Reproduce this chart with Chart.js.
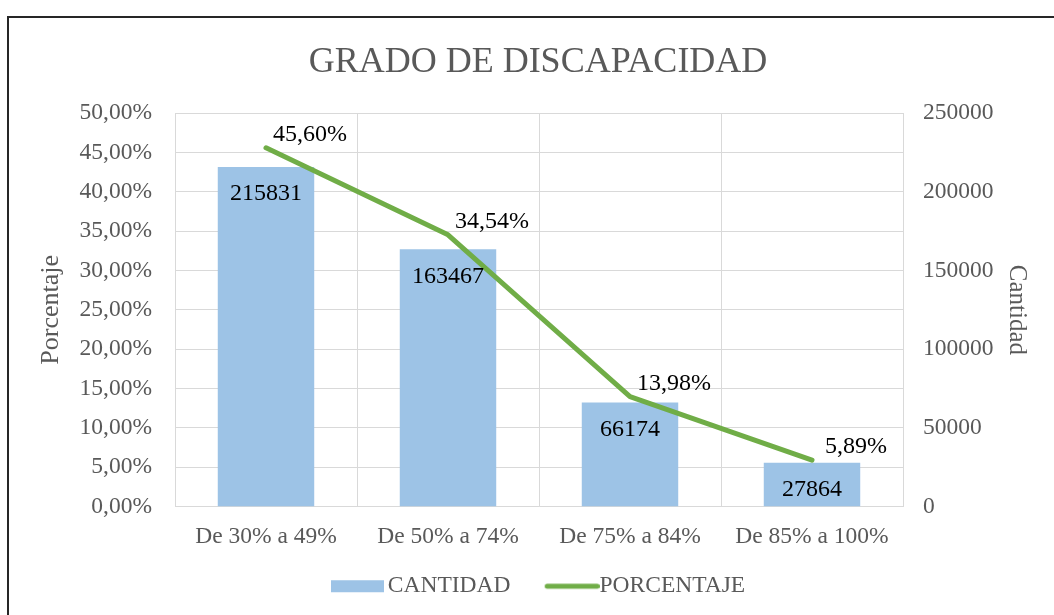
<!DOCTYPE html>
<html lang="es">
<head>
<meta charset="utf-8">
<title>Grado de discapacidad</title>
<script src="https://cdn.jsdelivr.net/npm/chart.js@4.4.1/dist/chart.umd.min.js"></script>
<style>
  html,body{margin:0;padding:0;background:#fff;overflow:hidden}
  #marco{position:relative;width:1054px;height:615px}
  #borde{position:absolute;left:7px;top:16px;width:1100px;height:700px;border:2px solid #262626;pointer-events:none}
</style>
</head>
<body>
<div id="marco">
  <canvas id="chartGrado" width="1054" height="615"></canvas>
  <div id="borde"></div>
</div>
<script>
// ============================================================
// GRADO DE DISCAPACIDAD — cantidad (barras) y porcentaje (línea)
// ============================================================

const categorias = ['De 30% a 49%', 'De 50% a 74%', 'De 75% a 84%', 'De 85% a 100%'];
const cantidad   = [215831, 163467, 66174, 27864];
const porcentaje = [45.60, 34.54, 13.98, 5.89];

const AZUL = '#9DC3E6', VERDE = '#70AD47', GRIS = '#595959', REJILLA = '#D9D9D9';
const FUENTE = '"Liberation Serif", "Times New Roman", serif';

const fmtPct = v => v.toFixed(2).replace('.', ',') + '%';

// muestras de la leyenda (rectángulo azul / trazo verde)
function muestraLeyenda(tipo) {
  const c = document.createElement('canvas');
  c.width = 91; c.height = 14;
  const g = c.getContext('2d');
  if (tipo === 'barra') { g.fillStyle = AZUL; g.fillRect(34, 1, 53, 12); }
  else { g.strokeStyle = VERDE; g.lineWidth = 5; g.lineCap = 'round'; g.beginPath(); g.moveTo(38.5, 7); g.lineTo(88.5, 7); g.stroke(); }
  return c;
}
const muestras = [muestraLeyenda('barra'), muestraLeyenda('linea')];

// etiquetas de datos + pequeño ajuste de la leyenda
const etiquetas = {
  id: 'etiquetas',
  afterLayout(chart) {
    chart.legend.left -= 11;
    chart.legend.right -= 11;
  },
  afterDatasetsDraw(chart) {
    const ctx = chart.ctx;
    ctx.save();
    ctx.font = '24px ' + FUENTE;
    ctx.fillStyle = '#000';
    ctx.textAlign = 'center';
    ctx.textBaseline = 'middle';
    chart.getDatasetMeta(0).data.forEach((b, i) => ctx.fillText(String(cantidad[i]), b.x, b.y + 27));
    chart.getDatasetMeta(1).data.forEach((p, i) => ctx.fillText(fmtPct(porcentaje[i]), p.x + 44, p.y - 13));
    ctx.restore();
  }
};

Chart.defaults.font.family = FUENTE;
Chart.defaults.color = GRIS;

const ctx = document.getElementById('chartGrado').getContext('2d');
const chartGrado = new Chart(ctx, {
  type: 'bar',
  data: {
    labels: categorias,
    datasets: [
      { type: 'bar', label: 'CANTIDAD', data: cantidad, backgroundColor: AZUL, yAxisID: 'y1',
        categoryPercentage: 0.53, barPercentage: 1, order: 1 },
      { type: 'line', label: 'PORCENTAJE', data: porcentaje, borderColor: VERDE, backgroundColor: VERDE, yAxisID: 'y',
        borderWidth: 5, tension: 0, pointRadius: 0, pointHoverRadius: 0, borderCapStyle: 'round', borderJoinStyle: 'round', order: 0 }
    ]
  },
  options: {
    responsive: false,
    animation: false,
    devicePixelRatio: 1,
    layout: { padding: { left: 22, right: 0, top: 0, bottom: 7 } },
    plugins: {
      tooltip: { enabled: false },
      title: { display: true, text: 'GRADO DE DISCAPACIDAD', color: GRIS,
        font: { size: 36, weight: 'normal' }, padding: { top: 41, bottom: 29 } },
      legend: {
        position: 'bottom',
        labels: {
          color: GRIS, font: { size: 23.5 }, usePointStyle: true, pointStyleWidth: 67.25, padding: 10,
          generateLabels: chart => Chart.defaults.plugins.legend.labels.generateLabels(chart)
            .sort((a, b) => a.datasetIndex - b.datasetIndex)
            .map(it => ({ ...it, pointStyle: muestras[it.datasetIndex] }))
        }
      }
    },
    scales: {
      x: {
        grid: { color: REJILLA, drawTicks: false },
        border: { color: REJILLA },
        ticks: { color: GRIS, font: { size: 23.5 }, padding: 16 },
        afterFit: s => { s.height = 58; }
      },
      y: {
        position: 'left', min: 0, max: 50,
        grid: { color: REJILLA, drawTicks: false },
        border: { color: REJILLA },
        ticks: { stepSize: 5, color: GRIS, font: { size: 23.5 }, padding: 23, callback: v => fmtPct(v) },
        title: { display: true, text: 'Porcentaje', color: GRIS, font: { size: 26 }, padding: { top: 14, bottom: 0 } },
        afterFit: s => { s.width = 153; }
      },
      y1: {
        position: 'right', min: 0, max: 250000,
        grid: { display: false, drawTicks: false },
        border: { color: REJILLA },
        ticks: { stepSize: 50000, color: GRIS, font: { size: 23.5 }, padding: 20, callback: v => String(v) },
        title: { display: true, text: 'Cantidad', color: GRIS, font: { size: 25 }, padding: { top: 22, bottom: 0 } },
        afterFit: s => { s.width = 151; }
      }
    }
  },
  plugins: [etiquetas]
});
</script>
</body>
</html>
